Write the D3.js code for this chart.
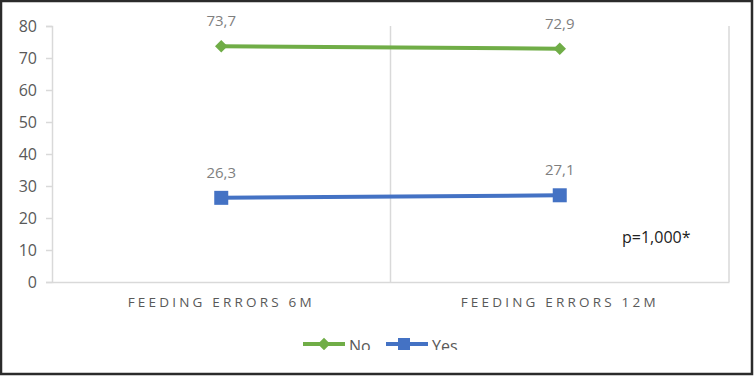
<!DOCTYPE html>
<html>
<head>
<meta charset="utf-8">
<script src="https://cdn.jsdelivr.net/npm/d3@7"></script>
<style>
  body { margin: 0; background: #fff; }
  text { font-family: "Open Sans", sans-serif; }
</style>
</head>
<body>
<svg id="chart" width="754" height="376"></svg>
<script>
var categories = ['FEEDING ERRORS 6M', 'FEEDING ERRORS 12M'];
var seriesNames = ['No', 'Yes'];
var noValues = [73.7, 72.9];
var yesValues = [26.3, 27.1];
var yTicks = [0, 10, 20, 30, 40, 50, 60, 70, 80];
var pValueLabel = 'p=1,000*';

var colors = { No: '#70AD47', Yes: '#4472C4' };
var series = [
    { name: seriesNames[0], values: noValues, shape: 'diamond' },
    { name: seriesNames[1], values: yesValues, shape: 'square' }
];

var svg = d3.select('#chart');
var plotLeft = 52, plotRight = 729, plotTop = 26, plotBottom = 282;
var fontFam = '"Open Sans", sans-serif';

var x = d3.scaleBand().domain(categories).range([plotLeft, plotRight]);
var y = d3.scaleLinear().domain([0, 80]).range([plotBottom, plotTop]);

// outer frame
svg.append('rect').attr('x', 1).attr('y', 1).attr('width', 751).attr('height', 373)
    .attr('fill', '#fff').attr('stroke', '#2b2b2b').attr('stroke-width', 2.5);

// vertical gridlines at category boundaries
var bounds = [plotLeft + x.bandwidth(), plotRight];
svg.selectAll('.vgrid').data(bounds).enter().append('line')
    .attr('x1', function(d) { return d; }).attr('x2', function(d) { return d; })
    .attr('y1', plotTop).attr('y2', plotBottom)
    .attr('stroke', '#d9d9d9').attr('stroke-width', 1.5);

// y axis
var yAxis = svg.append('g').attr('transform', 'translate(' + plotLeft + ',0)')
    .call(d3.axisLeft(y).tickValues(yTicks).tickSize(6).tickPadding(9));
yAxis.select('.domain').attr('stroke', '#d9d9d9').attr('stroke-width', 1.5);
yAxis.selectAll('.tick line').attr('stroke', '#d9d9d9').attr('stroke-width', 1.5);
yAxis.selectAll('.tick text').attr('fill', '#595959').style('font-size', '16px')
    .style('font-family', fontFam);

// x axis
var xAxis = svg.append('g').attr('transform', 'translate(0,' + plotBottom + ')')
    .call(d3.axisBottom(x).tickSize(0).tickPadding(15));
xAxis.select('.domain').attr('stroke', '#d9d9d9').attr('stroke-width', 1.5);
xAxis.selectAll('.tick text').attr('fill', '#595959').style('font-size', '13.5px')
    .style('letter-spacing', '3.2px')
    .style('font-family', fontFam);

var cx = function(i) { return x(categories[i]) + x.bandwidth() / 2; };
var line = d3.line().x(function(d, i) { return cx(i); }).y(function(d) { return y(d); });

function drawMarker(g, shape, px, py, color) {
    if (shape === 'diamond') {
        g.append('path').attr('d', d3.symbol().type(d3.symbolDiamond2).size(100)())
            .attr('transform', 'translate(' + px + ',' + py + ')').attr('fill', color);
    } else {
        g.append('rect').attr('x', px - 7).attr('y', py - 7).attr('width', 14).attr('height', 14)
            .attr('fill', color);
    }
}

series.forEach(function(s) {
    var c = colors[s.name];
    var g = svg.append('g');
    g.append('path').datum(s.values).attr('d', line)
        .attr('fill', 'none').attr('stroke', c).attr('stroke-width', 4);
    s.values.forEach(function(v, i) {
        drawMarker(g, s.shape, cx(i), y(v), c);
        g.append('text').attr('x', cx(i)).attr('y', y(v) - 20)
            .attr('text-anchor', 'middle').attr('fill', '#7f7f7f').style('font-size', '15px')
            .text(String(v).replace('.', ','));
    });
});

// p value
svg.append('text').attr('x', 622).attr('y', 243).attr('fill', '#222')
    .style('font-size', '16px').text(pValueLabel);

// legend (clipped at bottom like the source)
svg.append('clipPath').attr('id', 'legclip').append('rect')
    .attr('x', 0).attr('y', 0).attr('width', 754).attr('height', 350);
var legend = svg.append('g').attr('clip-path', 'url(#legclip)');
var legX = [303, 386];
series.forEach(function(s, i) {
    var c = colors[s.name];
    var lx = legX[i];
    legend.append('line').attr('x1', lx).attr('x2', lx + 42).attr('y1', 344).attr('y2', 344)
        .attr('stroke', c).attr('stroke-width', 4);
    if (s.shape === 'diamond') {
        drawMarker(legend, 'diamond', lx + 21, 344, c);
    } else {
        legend.append('rect').attr('x', lx + 12).attr('y', 338).attr('width', 12).attr('height', 12).attr('fill', c);
    }
    legend.append('text').attr('x', lx + 46).attr('y', 352).attr('fill', '#595959')
        .style('font-size', '16px').text(s.name);
});
</script>
</body>
</html>
